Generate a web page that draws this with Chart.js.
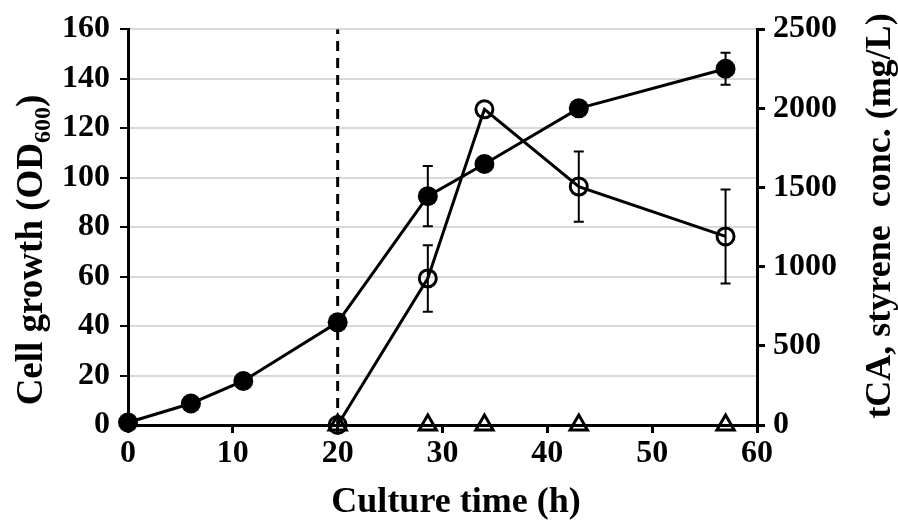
<!DOCTYPE html>
<html lang="en">
<head>
<meta charset="utf-8">
<title>Cell growth and tCA</title>
<script src="https://cdn.jsdelivr.net/npm/chart.js@4/dist/chart.umd.min.js"></script>
<style>
  html, body { margin: 0; padding: 0; background: #fff; }
  #wrap { position: relative; width: 898px; height: 524px; }
</style>
</head>
<body>
<div id="wrap"><canvas id="chart"></canvas></div>
<script>
// culture time (h) and cell growth (OD600)
const times = [0, 6, 11, 20, 28.6, 34, 43, 57];
const cellOD = [1, 8.7, 17.8, 41.5, 92.5, 105.5, 128, 144];
const cellErr = [0, 0, 0, 0, 12.2, 0, 0, 6.5];

// tCA (mg/L), right axis
const tcaTimes = [20, 28.6, 34, 43, 57];
const tcaConc = [0, 926, 1994, 1506, 1191];
const tcaErr = [0, 210, 0, 222, 297];

// styrene (mg/L), right axis
const styreneTimes = [20, 28.6, 34, 43, 57];
const styreneConc = [0, 0, 0, 0, 0];

const inductionTime = 20;
const xTicks = [0, 10, 20, 30, 40, 50, 60];
const leftTicks = [0, 20, 40, 60, 80, 100, 120, 140, 160];
const rightTicks = [0, 500, 1000, 1500, 2000, 2500];

const toPoints = (xs, ys) => xs.map((x, i) => ({ x: x, y: ys[i] }));
const FONT = '"Liberation Serif", "Times New Roman", serif';

const errorBars = {
    id: 'errorBars',
    afterDatasetsDraw(chart) {
        const ctx = chart.ctx;
        chart.data.datasets.forEach((ds) => {
            if (!ds.errors) return;
            const xs = chart.scales.x;
            const ys = chart.scales[ds.yAxisID];
            ctx.save();
            ctx.strokeStyle = '#000';
            ctx.lineWidth = 2;
            ds.data.forEach((p, j) => {
                const e = ds.errors[j];
                if (!e) return;
                const px = xs.getPixelForValue(p.x);
                const top = ys.getPixelForValue(p.y + e);
                const bot = ys.getPixelForValue(p.y - e);
                ctx.beginPath();
                ctx.moveTo(px, top); ctx.lineTo(px, bot);
                ctx.moveTo(px - 5, top); ctx.lineTo(px + 5, top);
                ctx.moveTo(px - 5, bot); ctx.lineTo(px + 5, bot);
                ctx.stroke();
            });
            ctx.restore();
        });
    }
};

const axisTitles = {
    id: 'axisTitles',
    afterDraw(chart) {
        const ctx = chart.ctx;
        ctx.save();
        ctx.fillStyle = '#000';
        ctx.textBaseline = 'alphabetic';

        // x title
        ctx.font = 'bold 36px ' + FONT;
        ctx.textAlign = 'center';
        ctx.fillText('Culture time (h)', 456, 512);

        // left title with subscript
        ctx.translate(42, 250);
        ctx.rotate(-Math.PI / 2);
        ctx.textAlign = 'left';
        const big = 'bold 37px ' + FONT;
        const small = 'bold 24px ' + FONT;
        const p1 = 'Cell growth (OD', p2 = '600', p3 = ')';
        ctx.font = big; const w1 = ctx.measureText(p1).width; const w3 = ctx.measureText(p3).width;
        ctx.font = small; const w2 = ctx.measureText(p2).width;
        const x0 = -(w1 + w2 + w3) / 2;
        ctx.font = big; ctx.fillText(p1, x0, 0);
        ctx.font = small; ctx.fillText(p2, x0 + w1, 8);
        ctx.font = big; ctx.fillText(p3, x0 + w1 + w2, 0);
        ctx.restore();

        // right title
        ctx.save();
        ctx.fillStyle = '#000';
        ctx.font = 'bold 36px ' + FONT;
        ctx.textAlign = 'center';
        ctx.translate(890, 216);
        ctx.rotate(-Math.PI / 2);
        ctx.fillText('tCA, styrene  conc. (mg/L)', 0, 0);
        ctx.restore();
    }
};

const tickFont = { family: FONT, size: 32, weight: 'bold' };

new Chart(document.getElementById('chart'), {
    type: 'line',
    data: {
        datasets: [{
            label: 'Cell growth',
            data: toPoints(times, cellOD),
            errors: cellErr,
            yAxisID: 'y',
            borderColor: '#000',
            borderWidth: 3,
            pointRadius: 10,
            pointBackgroundColor: '#000',
            pointBorderColor: '#000',
            pointBorderWidth: 0,
            clip: false,
            order: 1
        }, {
            label: 'tCA',
            data: toPoints(tcaTimes, tcaConc),
            errors: tcaErr,
            yAxisID: 'y1',
            borderColor: '#000',
            borderWidth: 3,
            pointRadius: 8.5,
            pointBackgroundColor: 'rgba(0,0,0,0)',
            pointBorderColor: '#000',
            pointBorderWidth: 3,
            clip: false,
            order: 2
        }, {
            label: 'Styrene',
            data: toPoints(styreneTimes, styreneConc),
            yAxisID: 'y1',
            showLine: false,
            pointStyle: 'triangle',
            pointRadius: 10,
            pointBackgroundColor: 'rgba(0,0,0,0)',
            pointBorderColor: '#000',
            pointBorderWidth: 3,
            clip: false,
            order: 3
        }, {
            label: 'Induction',
            data: [{ x: inductionTime, y: 0 }, { x: inductionTime, y: 160 }],
            yAxisID: 'y',
            borderColor: '#000',
            borderWidth: 3,
            borderDash: [10, 7],
            pointRadius: 0,
            order: 4
        }]
    },
    options: {
        responsive: true,
        maintainAspectRatio: false,
        animation: false,
        layout: { padding: { top: 20, left: 0, right: 0, bottom: 0 } },
        plugins: { legend: { display: false }, tooltip: { enabled: false } },
        scales: {
            x: {
                type: 'linear',
                min: 0, max: 60,
                afterFit: s => { s.height = 99; },
                afterBuildTicks: s => { s.ticks = xTicks.map(v => ({ value: v })); },
                grid: { drawOnChartArea: false, color: '#000', tickLength: 8, lineWidth: 3 },
                border: { color: '#000', width: 3 },
                ticks: { color: '#000', font: tickFont, padding: 2, maxRotation: 0, callback: v => String(v) }
            },
            y: {
                type: 'linear',
                position: 'left',
                min: 0, max: 160,
                afterFit: s => { s.width = 128; },
                afterBuildTicks: s => { s.ticks = leftTicks.map(v => ({ value: v })); },
                grid: { color: '#d9d9d9', lineWidth: 2, tickColor: '#000', tickLength: 8 },
                border: { color: '#000', width: 3 },
                ticks: { color: '#000', font: tickFont, padding: 10, callback: v => String(v) }
            },
            y1: {
                type: 'linear',
                position: 'right',
                min: 0, max: 2500,
                afterFit: s => { s.width = 141; },
                afterBuildTicks: s => { s.ticks = rightTicks.map(v => ({ value: v })); },
                grid: { drawOnChartArea: false, color: '#000', lineWidth: 3, tickLength: 8 },
                border: { color: '#000', width: 3 },
                ticks: { color: '#000', font: tickFont, padding: 8, callback: v => String(v) }
            }
        }
    },
    plugins: [errorBars, axisTitles]
});
</script>
</body>
</html>
